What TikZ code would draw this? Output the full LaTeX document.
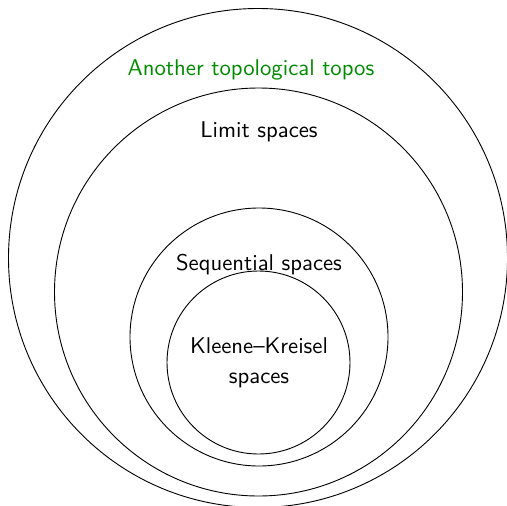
\documentclass[tikz,border=0pt]{standalone}
\usepackage{tikz}

\tikzset{
  region/.style={draw, thin},
  label text/.style={font=\sffamily, align=center},
}

\begin{document}
\begin{tikzpicture}[x=0.44pt, y=-0.44pt]

% Frame
\useasboundingbox (0,0) rectangle (506,506);

% Centres of the nested regions
\coordinate (topos) at (258,258);
\coordinate (limit) at (258.5,292);
\coordinate (seq) at (259,337);
\coordinate (kk) at (258.5,362.5);

% Nested circles
\draw[region] (topos) circle[radius=249.5];
\draw[region] (limit) circle[radius=204];
\draw[region] (seq) circle[radius=129];
\draw[region] (kk) circle[radius=91.5];

% Labels
\node[label text, text=green!55!black] (toposlabel) at (251,70) {Another topological topos};
\node[label text] (limitlabel) at (259,132) {Limit spaces};
\node[label text] (seqlabel) at (259,265) {Sequential spaces};
\node[label text] (kklabel) at (259,363) {Kleene--Kreisel\\[1pt]spaces};

\end{tikzpicture}
\end{document}
